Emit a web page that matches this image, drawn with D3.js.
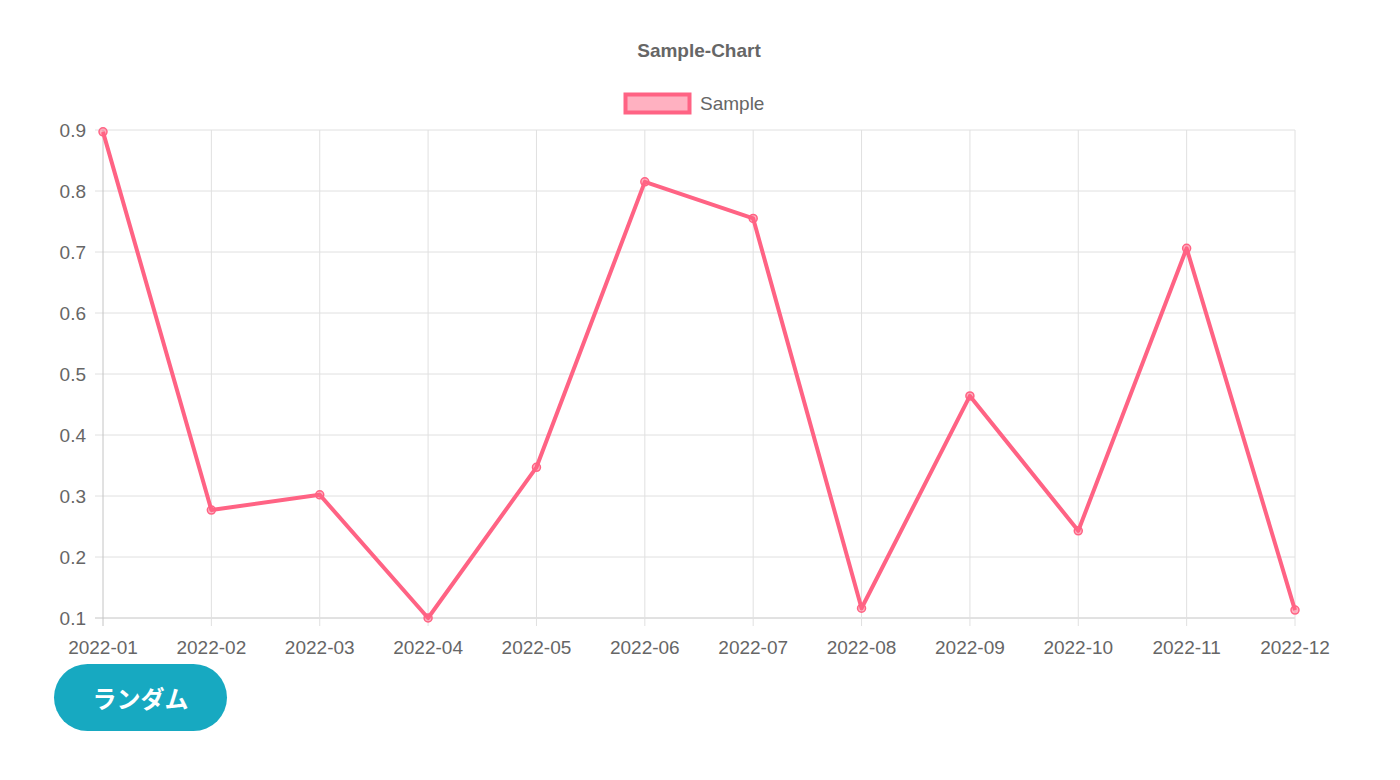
<!DOCTYPE html>
<html><head><meta charset="utf-8">
<script src="https://cdn.jsdelivr.net/npm/d3@7"></script>
<style>
html,body{margin:0;padding:0;background:#fff;}
#btn{position:absolute;left:54px;top:664px;width:173px;height:67px;border-radius:34px;background:#17a9c1;color:#fff;font-family:"Noto Sans CJK JP",sans-serif;font-weight:bold;font-size:24px;display:flex;align-items:center;justify-content:center;border:none;}
</style></head>
<body>
<svg id="chart" width="1400" height="660" style="position:absolute;left:0;top:0"></svg>
<div id="btn">ランダム</div>
<script>
const categories = ["2022-01","2022-02","2022-03","2022-04","2022-05","2022-06","2022-07","2022-08","2022-09","2022-10","2022-11","2022-12"];
const values = [0.897,0.277,0.302,0.100,0.347,0.815,0.755,0.116,0.464,0.243,0.706,0.113];
const yTicks = [0.1,0.2,0.3,0.4,0.5,0.6,0.7,0.8,0.9];
const seriesName = "Sample";
const chartTitle = "Sample-Chart";

(function(){
const svg = d3.select("#chart");
const pl=103, pr=1295, pt=130, pb=618;
const font = "Helvetica, 'Liberation Sans', Arial, sans-serif";
const x = d3.scalePoint().domain(categories).range([pl,pr]);
const y = d3.scaleLinear().domain([0.1,0.9]).range([pb,pt]);

const g = svg.append("g");
g.selectAll(".hg").data(yTicks).join("line")
  .attr("x1",pl-8).attr("x2",pr).attr("y1",d=>y(d)).attr("y2",d=>y(d))
  .attr("stroke",d=>d===0.1?"#c4c4c4":"#e0e0e0").attr("stroke-width",1);
g.selectAll(".vg").data(categories).join("line")
  .attr("x1",d=>x(d)).attr("x2",d=>x(d)).attr("y1",pt).attr("y2",pb+8)
  .attr("stroke",(d,i)=>i===0?"#c4c4c4":"#e0e0e0").attr("stroke-width",1);

g.selectAll(".yl").data(yTicks).join("text")
  .attr("x",pl-17).attr("y",d=>y(d)).attr("dy","0.35em").attr("text-anchor","end")
  .attr("font-family",font).attr("font-size",19).attr("fill","#666").text(d=>d.toFixed(1));
g.selectAll(".xl").data(categories).join("text")
  .attr("x",d=>x(d)).attr("y",pb+36).attr("text-anchor","middle")
  .attr("font-family",font).attr("font-size",19).attr("fill","#666").text(d=>d);

const line = d3.line().x((d,i)=>x(categories[i])).y(d=>y(d));
svg.append("path").datum(values).attr("d",line).attr("fill","none")
  .attr("stroke","rgb(255,99,132)").attr("stroke-width",4).attr("stroke-linejoin","round");
svg.selectAll(".pt").data(values).join("circle")
  .attr("cx",(d,i)=>x(categories[i])).attr("cy",d=>y(d)).attr("r",4)
  .attr("fill","rgba(255,99,132,0.5)").attr("stroke","rgb(255,99,132)").attr("stroke-width",1.5);

svg.append("text").attr("x",(pl+pr)/2).attr("y",57).attr("text-anchor","middle")
  .attr("font-family",font).attr("font-weight","bold").attr("font-size",19).attr("fill","#666").text(chartTitle);
svg.append("rect").attr("x",625.5).attr("y",94.5).attr("width",64).attr("height",18)
  .attr("fill","rgba(255,99,132,0.5)").attr("stroke","rgb(255,99,132)").attr("stroke-width",4);
svg.append("text").attr("x",700).attr("y",110).attr("font-family",font).attr("font-size",19)
  .attr("fill","#666").text(seriesName);
})();
</script>
</body></html>
